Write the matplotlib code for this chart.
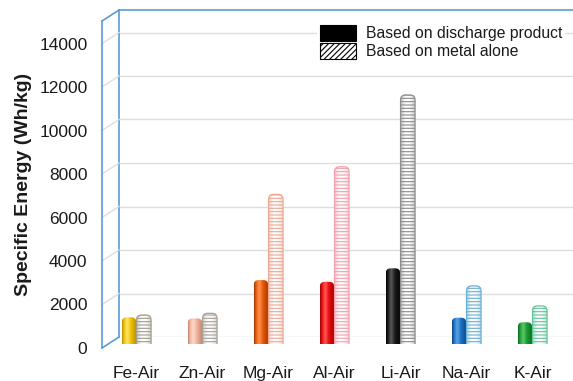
import numpy as np
import matplotlib
matplotlib.use("Agg")
import matplotlib.pyplot as plt
from matplotlib.patches import FancyBboxPatch, Patch
from matplotlib.colors import to_rgb

plt.rcParams["font.family"] = ["Liberation Sans", "DejaVu Sans"]

categories = ["Fe-Air", "Zn-Air", "Mg-Air", "Al-Air", "Li-Air", "Na-Air", "K-Air"]
discharge_product = [1230, 1180, 2940, 2860, 3480, 1210, 1000]
metal_alone = [1330, 1410, 6880, 8150, 11450, 2670, 1750]
y_ticks = [0, 2000, 4000, 6000, 8000, 10000, 12000, 14000]
legend_labels = ["Based on discharge product", "Based on metal alone"]

# solid cylinders: (shadow, body, highlight)
solid_colors = [
    ("#b58c00", "#f0c000", "#ffe66e"),
    ("#c4806a", "#efb49c", "#fcd9ca"),
    ("#9c3400", "#e85a0a", "#ff9550"),
    ("#990000", "#e80c0c", "#ff5a5a"),
    ("#000000", "#1c1c1c", "#5a5a5a"),
    ("#0b4585", "#1b6fc2", "#5aa2e6"),
    ("#0b6a1c", "#1c9a32", "#5cc86c"),
]
# ribbed cylinders: rib / outline colour
rib_colors = ["#a39c8c", "#a8a098", "#eea894", "#f2a0ac", "#8c8c8c", "#6cb0d4", "#66c49c"]

W, H = 573, 381
fig = plt.figure(figsize=(W / 100, H / 100), dpi=100)


def box(left, top, right, bottom):
    return [left / W, 1 - bottom / H, (right - left) / W, (bottom - top) / H]


scale = 21.75 / 1000.0          # pixels per Wh/kg
back_floor, front_floor, bar_floor = 337, 348, 344
wall_top_back, depth_px = 10, 11
wall_left_front, wall_left_back = 102, 119
wall_blue = "#5b9bd5"
grid_col = "#dedede"
text_col = "#1a1a1a"

# back wall with gridlines
ax_back = fig.add_axes(box(wall_left_back, wall_top_back, W, back_floor))
ax_back.set_xlim(0, 1)
ax_back.set_ylim(0, (back_floor - wall_top_back) / scale)
for v in y_ticks:
    ax_back.axhline(v, color="#cfd9e6" if v == 0 else grid_col, lw=1.0, zorder=1)
for s in ("right", "bottom"):
    ax_back.spines[s].set_visible(False)
for s in ("left", "top"):
    ax_back.spines[s].set_color(wall_blue)
    ax_back.spines[s].set_linewidth(1.2)
ax_back.set_xticks([])
ax_back.set_yticks([])

# side wall carrying the value axis
ax_side = fig.add_axes(box(wall_left_front, wall_top_back + depth_px, wall_left_back, front_floor))
side_top = (front_floor - wall_top_back - depth_px) / scale
ax_side.set_xlim(0, 1)
ax_side.set_ylim(0, side_top)
ax_side.patch.set_alpha(0)
for s in ("right", "top", "bottom"):
    ax_side.spines[s].set_visible(False)
ax_side.spines["left"].set_color(wall_blue)
ax_side.spines["left"].set_linewidth(1.2)
ax_side.set_xticks([])
ax_side.set_yticks(y_ticks)
ax_side.set_yticklabels([str(v) for v in y_ticks])
ax_side.tick_params(axis="y", length=0, pad=10.5, labelsize=12.5, labelcolor=text_col)
offset = depth_px / scale
for v in y_ticks[1:]:
    ax_side.plot([0, 1], [v, v + offset], color=grid_col, lw=1.0, clip_on=False)
for v in (0, side_top):
    ax_side.plot([0, 1], [v, v + offset], color=wall_blue, lw=1.2, clip_on=False,
                 solid_capstyle="round")

ax_side.set_ylabel("Specific Energy (Wh/kg)", fontsize=14, fontweight="bold",
                   color=text_col, labelpad=5)

# bar plane
cat_center0, cat_step = 136.4, 66.0
ax = fig.add_axes(box(wall_left_back, wall_top_back, W, bar_floor))
x_lo = (wall_left_back - cat_center0) / cat_step
x_hi = (W - cat_center0) / cat_step
y_hi = (bar_floor - wall_top_back) / scale
ax.set_xlim(x_lo, x_hi)
ax.set_ylim(0, y_hi)
ax.patch.set_alpha(0)
for s in ax.spines.values():
    s.set_visible(False)
ax.set_yticks([])
ax.set_xticks(range(len(categories)))
ax.set_xticklabels(categories)
ax.tick_params(axis="x", length=0, pad=15.5, labelsize=12.5, labelcolor=text_col)

x_per_px = 1.0 / cat_step
y_per_px = 1.0 / scale
aspect = y_per_px / x_per_px
bar_w = 14.5 * x_per_px
half_gap = 7.4 * x_per_px
radius = 5.0 * x_per_px


def mix(stops, n=64):
    t = np.linspace(0, 1, n)
    pos = [s[0] for s in stops]
    cols = np.array([to_rgb(s[1]) for s in stops])
    return np.stack([np.interp(t, pos, cols[:, k]) for k in range(3)], axis=1)


def cylinder(xc, value, stops, rib=None):
    x0 = xc - bar_w / 2
    y0 = -3 * radius * aspect
    outline = FancyBboxPatch((x0, y0), bar_w, value - y0,
                             boxstyle=f"round,pad=0,rounding_size={radius}",
                             mutation_aspect=aspect, facecolor="none",
                             edgecolor="none", zorder=3)
    ax.add_patch(outline)
    img = ax.imshow(mix(stops)[np.newaxis, :, :], extent=(x0, x0 + bar_w, y0, value),
                    aspect="auto", interpolation="bilinear", zorder=2)
    img.set_clip_path(outline)
    if rib is not None:
        ribs = FancyBboxPatch((x0, y0), bar_w, value - y0,
                              boxstyle=f"round,pad=0,rounding_size={radius}",
                              mutation_aspect=aspect, facecolor="none",
                              edgecolor=rib, hatch="-----", lw=0.9, zorder=3)
        ax.add_patch(ribs)


plt.rcParams["hatch.linewidth"] = 0.8
for i, (d, m) in enumerate(zip(discharge_product, metal_alone)):
    shadow, body, hi = solid_colors[i]
    cylinder(i - half_gap, d,
             [(0, shadow), (0.12, body), (0.35, hi), (0.6, body), (1, shadow)])
    rib = rib_colors[i]
    tint = to_rgb(rib)
    light = tuple(0.55 + 0.45 * c for c in tint)
    cylinder(i + half_gap, m,
             [(0, light), (0.3, "#ffffff"), (0.6, "#fbfbfb"), (1, light)], rib=rib)

ax.set_xlim(x_lo, x_hi)
ax.set_ylim(0, y_hi)

handles = [Patch(facecolor="black", edgecolor="black", lw=0.8),
           Patch(facecolor="white", edgecolor="black", hatch="//////", lw=0.8)]
leg = ax.legend(handles, legend_labels, loc="upper left",
                bbox_to_anchor=(317 / W, 1 - 22 / H), bbox_transform=fig.transFigure,
                fontsize=11.3, handlelength=2.3, handleheight=1.15, handletextpad=0.6,
                labelspacing=0.12, borderpad=0.2, borderaxespad=0, frameon=True,
                fancybox=False, framealpha=1, facecolor="white", edgecolor="none")
for t in leg.get_texts():
    t.set_color(text_col)

fig.savefig("out.png", dpi=100)
